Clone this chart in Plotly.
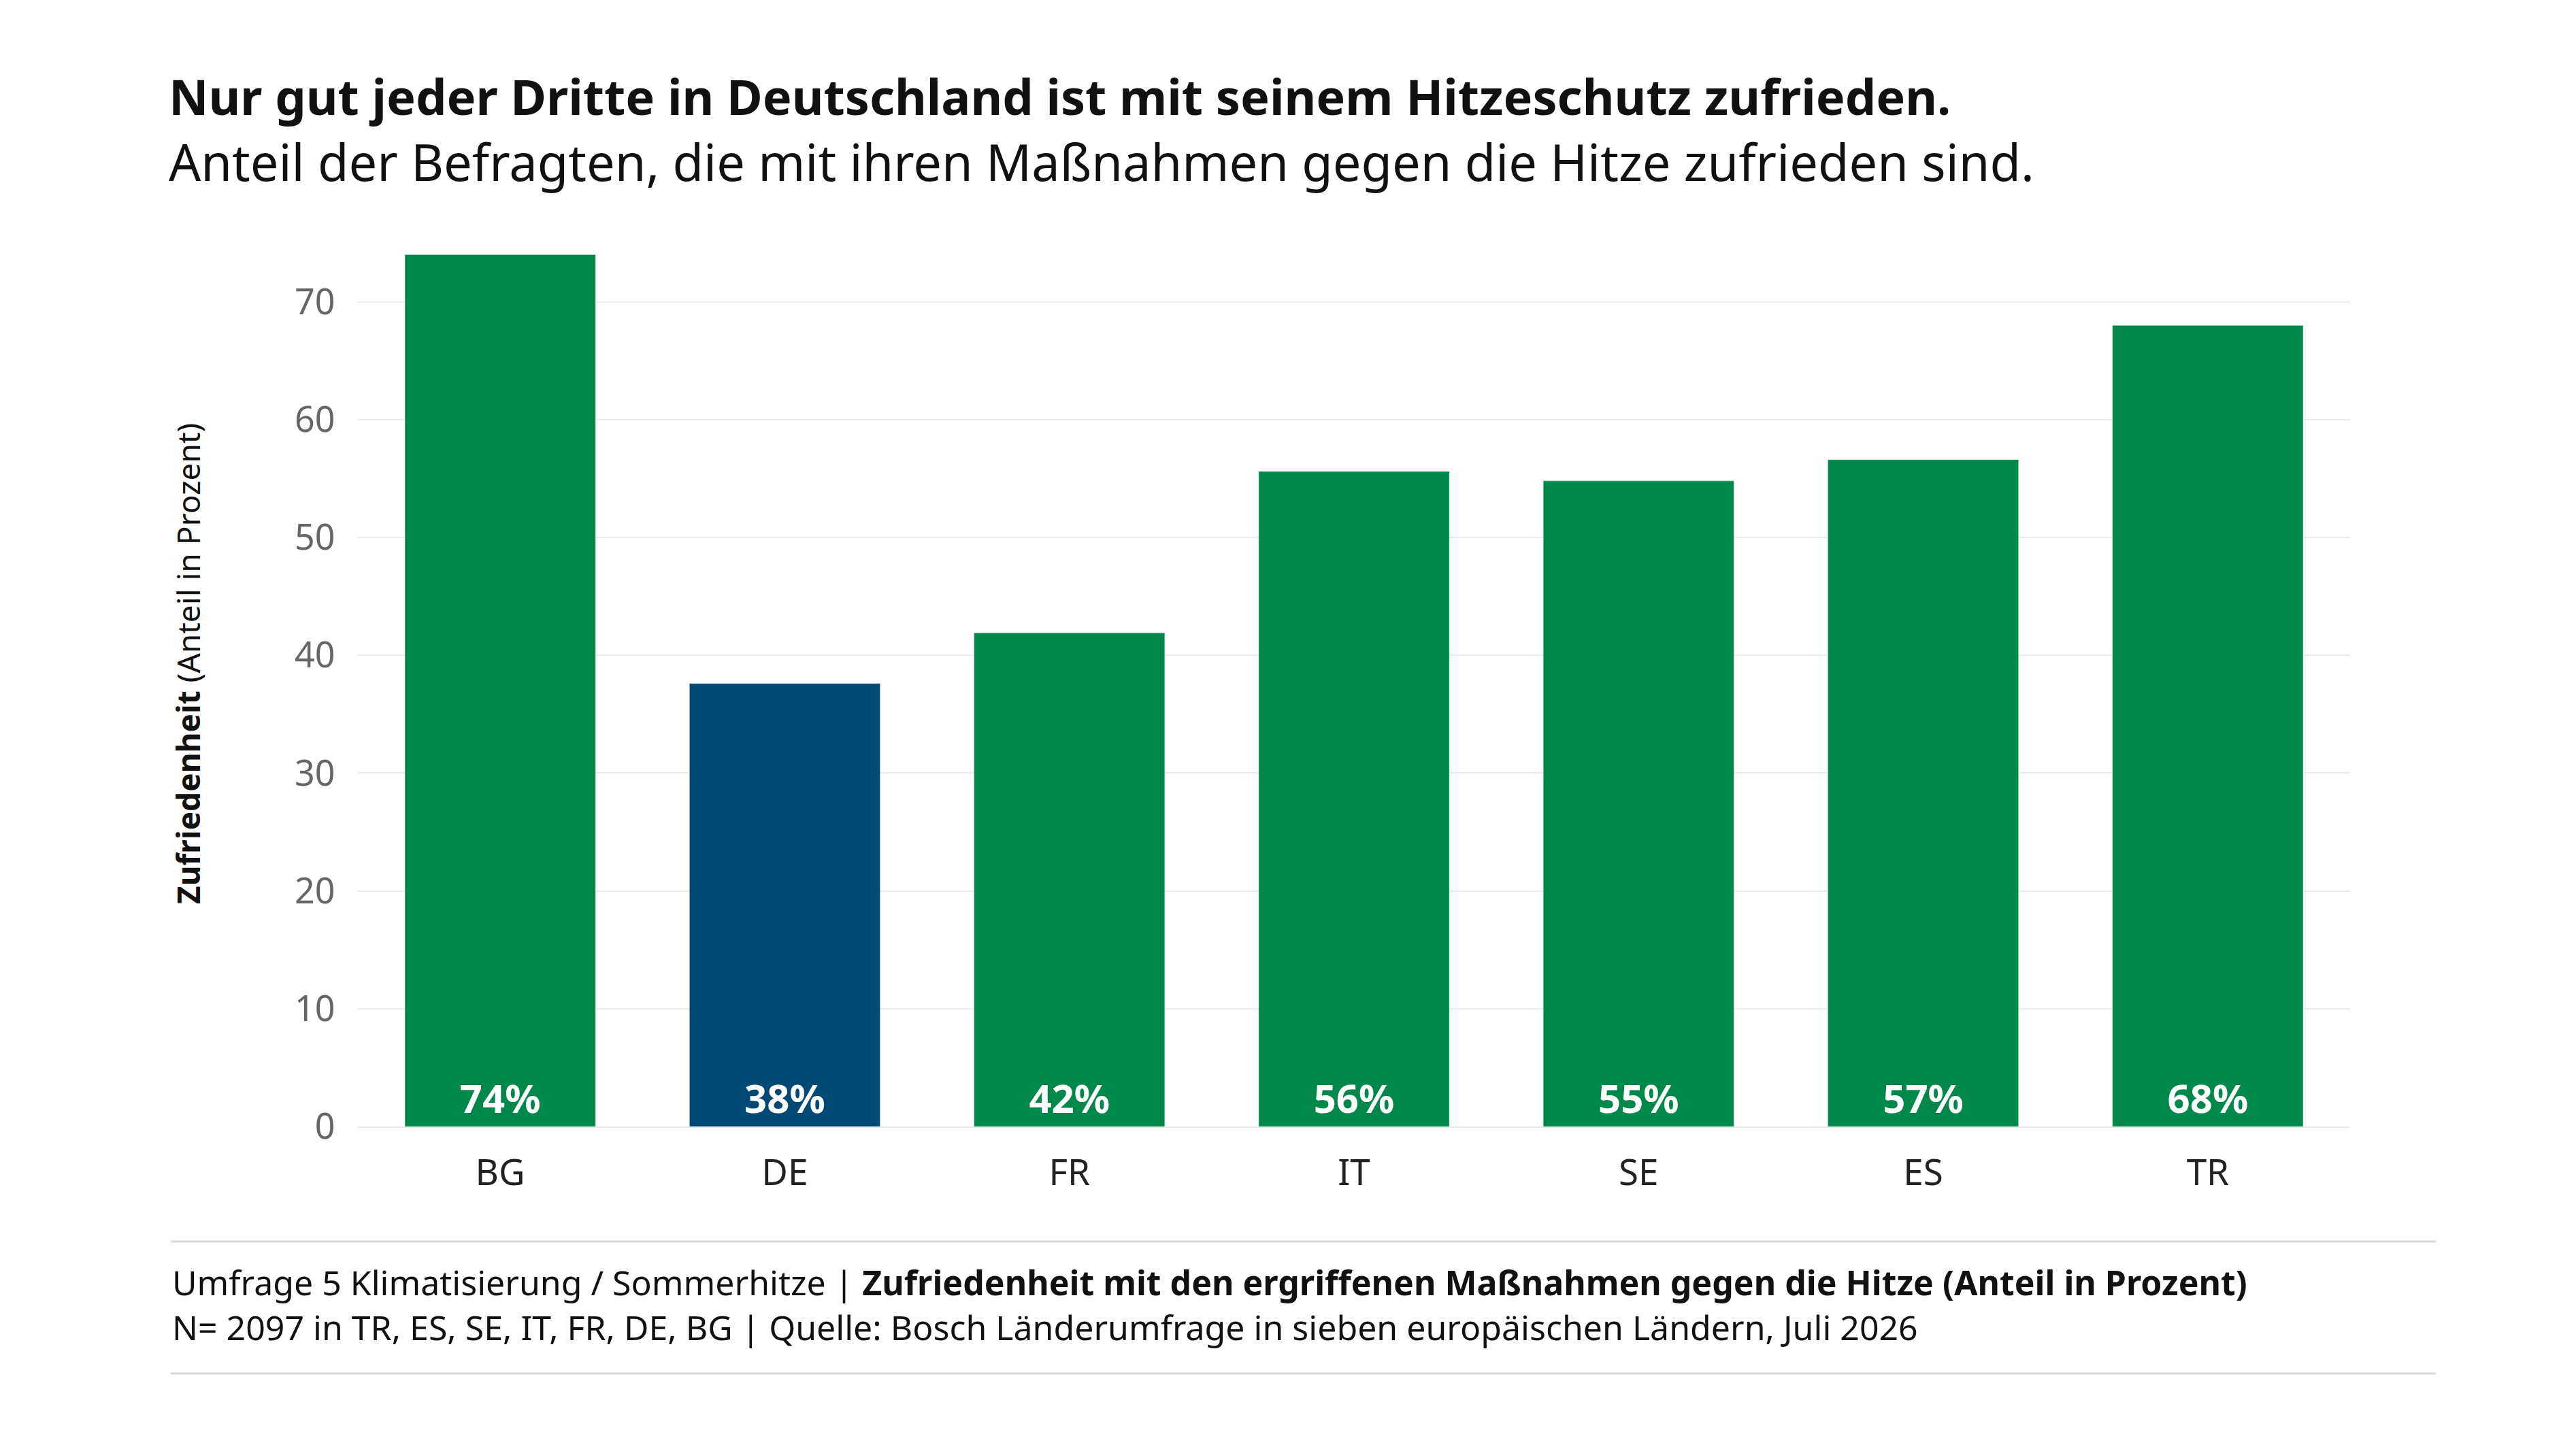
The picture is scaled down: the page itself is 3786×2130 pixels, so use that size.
import plotly.graph_objects as go

countries = ['BG', 'DE', 'FR', 'IT', 'SE', 'ES', 'TR']
satisfaction = [74.0, 37.6, 41.9, 55.6, 54.8, 56.6, 68.0]
bar_labels = ['74%', '38%', '42%', '56%', '55%', '57%', '68%']
y_ticks = [0, 10, 20, 30, 40, 50, 60, 70]

GREEN = '#00884A'
BLUE = '#004975'
colors = [BLUE if c == 'DE' else GREEN for c in countries]
FONT = 'Noto Sans'

fig = go.Figure(go.Bar(
    x=countries,
    y=satisfaction,
    marker_color=colors,
    text=bar_labels,
    textposition='inside',
    insidetextanchor='start',
    textangle=0,
    insidetextfont=dict(family=FONT, size=58, color='white', weight='bold'),
    hoverinfo='skip',
))

W, H = 3786, 2130
ml, mr, mt, mb = 518, 340, 349, 482
pw, ph = W - ml - mr, H - mt - mb


def px(x):
    return (x - ml) / pw


def py(y):
    return (H - mb - y) / ph


annotations = [
    dict(text='<b>Nur gut jeder Dritte in Deutschland ist mit seinem Hitzeschutz zufrieden.</b>',
         x=px(238), y=py(133), font=dict(size=72, color='#111')),
    dict(text='Anteil der Befragten, die mit ihren Maßnahmen gegen die Hitze zufrieden sind.',
         x=px(238), y=py(230), font=dict(size=74, color='#111')),
    dict(text='Umfrage 5 Klimatisierung / Sommerhitze | <b>Zufriedenheit mit den ergriffenen Maßnahmen gegen die Hitze (Anteil in Prozent)</b>',
         x=px(243), y=py(1877), font=dict(size=50, color='#111')),
    dict(text='N= 2097 in TR, ES, SE, IT, FR, DE, BG | Quelle: Bosch Länderumfrage in sieben europäischen Ländern, Juli 2026',
         x=px(243), y=py(1943), font=dict(size=50, color='#111')),
]
for a in annotations:
    a.update(xref='paper', yref='paper', xanchor='left', yanchor='middle', showarrow=False)
annotations.append(dict(
    text='<b>Zufriedenheit</b> (Anteil in Prozent)', textangle=-90,
    x=px(268), y=py(968), xref='paper', yref='paper', showarrow=False,
    xanchor='center', yanchor='middle', font=dict(size=46, color='#111')))

shapes = [
    dict(type='line', xref='paper', yref='paper', x0=px(243), x1=px(3572),
         y0=py(yy), y1=py(yy), line=dict(color='#d9d9d9', width=3))
    for yy in (1817, 2011)
]

fig.update_layout(
    width=W, height=H,
    margin=dict(l=ml, r=mr, t=mt, b=mb),
    paper_bgcolor='white', plot_bgcolor='white',
    font=dict(family=FONT),
    bargap=0.33,
    showlegend=False,
    annotations=annotations,
    shapes=shapes,
    xaxis=dict(tickfont=dict(size=53, color='#222'), ticks='outside', ticklen=20,
               tickcolor='rgba(0,0,0,0)', showline=True, linecolor='#e6e6e6', linewidth=2),
    yaxis=dict(range=[0, 75], tickvals=y_ticks, ticksuffix='%',
               tickfont=dict(size=52, color='#666'), gridcolor='#ececec', gridwidth=2,
               zeroline=False, ticks='outside', ticklen=22, tickcolor='rgba(0,0,0,0)'),
)

fig.write_html('out.html')
